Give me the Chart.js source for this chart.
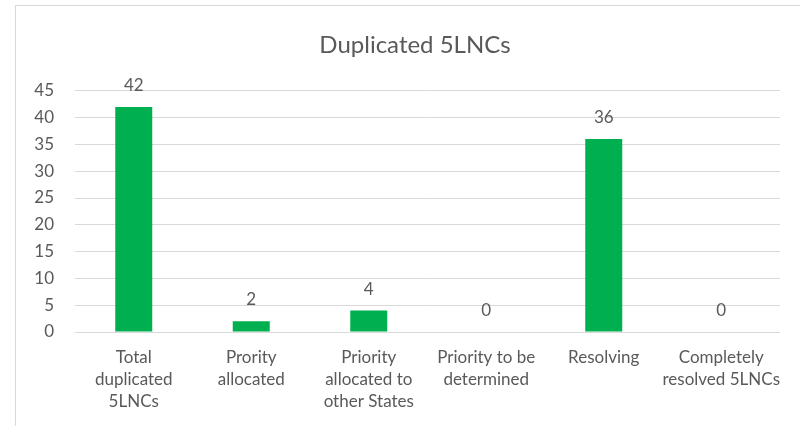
<!DOCTYPE html>
<html>
<head>
<meta charset="utf-8">
<script src="https://cdn.jsdelivr.net/npm/chart.js@4"></script>
<style>
	html, body { margin: 0; padding: 0; background: #fff; overflow: hidden; }
	.frame { position: absolute; left: 15px; top: 5px; width: 900px; height: 500px; border: 1px solid #d9d9d9; }
	.wrap { position: absolute; left: 0; top: 0; width: 800px; height: 426px; }
</style>
</head>
<body>
<div class="frame"></div>
<div class="wrap"><canvas id="chart" width="800" height="426"></canvas></div>
<script>
// Duplicated 5LNCs
const categories = [
	['Total', 'duplicated', '5LNCs'],
	['Prority', 'allocated'],
	['Priority', 'allocated to', 'other States'],
	['Priority to be', 'determined'],
	['Resolving'],
	['Completely', 'resolved 5LNCs'],
]
const values = [42, 2, 4, 0, 36, 0]
const yTicks = { min: 0, max: 45, step: 5 }

const textColor = '#595959'
const gridColor = '#d9d9d9'
const fontFamily = 'Lato, "Open Sans", sans-serif'

Chart.defaults.font.family = fontFamily
Chart.defaults.color = textColor

// value above each bar
const barLabels = {
	id: 'barLabels',
	afterDatasetsDraw(chart) {
		const ctx = chart.ctx
		const meta = chart.getDatasetMeta(0)
		ctx.save()
		ctx.font = '17px ' + fontFamily
		ctx.fillStyle = textColor
		ctx.textAlign = 'center'
		ctx.textBaseline = 'alphabetic'
		meta.data.forEach((bar, i) => {
			ctx.fillText(String(values[i]), bar.x, bar.y - 16)
		})
		ctx.restore()
	},
}

// centre the title on the whole frame, not just up to the plot's right edge
const frameTitle = {
	id: 'frameTitle',
	afterLayout(chart) {
		const t = chart.titleBlock
		if (!t) return
		t.left = 15
		t.right = 815
		t.width = 800
	},
}

const config = {
	type: 'bar',
	data: {
		labels: categories,
		datasets: [
			{
				label: 'Duplicated 5LNCs',
				data: values,
				backgroundColor: '#00b050',
				borderWidth: 0,
				categoryPercentage: 1,
				barPercentage: 0.315,
			},
		],
	},
	options: {
		responsive: false,
		animation: false,
		layout: {
			padding: { left: 15, right: 20, top: 0, bottom: 14 },
		},
		plugins: {
			title: {
				display: true,
				text: 'Duplicated 5LNCs',
				color: textColor,
				font: { size: 24, weight: 'normal', lineHeight: 1.2 },
				padding: { top: 31, bottom: 31 },
			},
			legend: { display: false },
			tooltip: { enabled: false },
		},
		scales: {
			x: {
				grid: { display: false, drawTicks: false },
				border: { display: false },
				ticks: {
					color: textColor,
					font: { size: 17, lineHeight: 1.3 },
					padding: 14,
					maxRotation: 0,
					autoSkip: false,
				},
				afterFit(scale) {
					scale.height = 80
				},
			},
			y: {
				min: yTicks.min,
				max: yTicks.max,
				grid: { color: gridColor, drawTicks: false },
				border: { display: false },
				ticks: {
					stepSize: yTicks.step,
					color: textColor,
					font: { size: 17 },
					padding: 21,
				},
				afterFit(scale) {
					scale.width = 60
				},
			},
		},
	},
	plugins: [barLabels, frameTitle],
}

new Chart(document.getElementById('chart').getContext('2d'), config)
</script>
</body>
</html>
